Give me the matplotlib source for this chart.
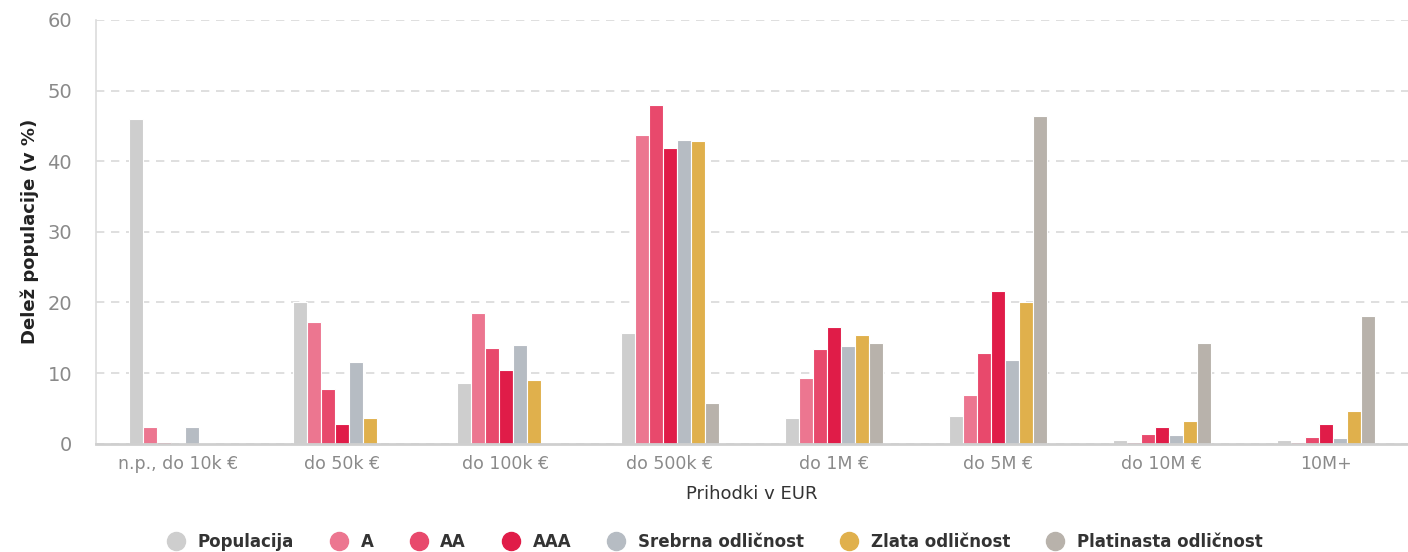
import numpy as np
import matplotlib
matplotlib.use("Agg")
import matplotlib.pyplot as plt
from matplotlib.lines import Line2D

# ── Data ──────────────────────────────────────────────────────────────────────
categories = ["n.p., do 10k €", "do 50k €", "do 100k €", "do 500k €",
              "do 1M €", "do 5M €", "do 10M €", "10M+"]
series_names = ["Populacija", "A", "AA", "AAA",
                "Srebrna odličnost", "Zlata odličnost", "Platinasta odličnost"]
populacija = [46.0, 20.0, 8.6, 15.7, 3.6, 3.9, 0.5, 0.5]
a_vals     = [2.4, 17.2, 18.5, 43.7, 9.3, 6.9, 0.25, 0.25]
aa_vals    = [0.25, 7.8, 13.6, 47.9, 13.4, 12.9, 1.4, 0.95]
aaa_vals   = [0.0, 2.8, 10.4, 41.9, 16.5, 21.6, 2.4, 2.8]
srebrna    = [2.4, 11.6, 14.0, 43.0, 13.8, 11.9, 1.2, 0.8]
zlata      = [0.1, 3.6, 9.0, 42.9, 15.4, 20.1, 3.2, 4.6]
platinasta = [0.0, 0.0, 0.1, 5.8, 14.3, 46.4, 14.3, 18.1]
yticks = [0, 10, 20, 30, 40, 50, 60]

COLORS = ["#cecece", "#ec7690", "#e8496c", "#e01c48", "#b6bcc3", "#e0b04c", "#b8b2ab"]

# ── Plot ──────────────────────────────────────────────────────────────────────
fig = plt.figure(figsize=(14.08, 5.52), dpi=100)
ax = fig.add_axes([0.068, 0.196, 0.932, 0.768])

all_series = [populacija, a_vals, aa_vals, aaa_vals, srebrna, zlata, platinasta]
x = np.arange(len(categories))
n = len(all_series)
w = 0.0855
for i, (vals, col) in enumerate(zip(all_series, COLORS)):
    offs = (i - (n - 1) / 2) * w
    ax.bar(x + offs, vals, width=w, color=col, edgecolor="white", linewidth=0.8, zorder=3)

ax.set_xlim(-0.5, len(categories) - 0.5)
ax.set_ylim(0, 60)
ax.set_yticks(yticks)
ax.set_xticks(x)
ax.set_xticklabels(categories)
ax.tick_params(axis="both", length=0, colors="#8a8a8a")
ax.tick_params(axis="x", pad=8, labelsize=12.5)
ax.tick_params(axis="y", pad=17, labelsize=14)

ax.grid(axis="y", linestyle=(0, (5, 4)), color="#d9d9d9", linewidth=1.2, zorder=0)
for s in ["top", "right"]:
    ax.spines[s].set_visible(False)
ax.spines["left"].set_color("#dcdcdc")
ax.spines["left"].set_linewidth(1.2)
ax.spines["bottom"].set_color("#cfcfcf")
ax.spines["bottom"].set_linewidth(2)
ax.spines["bottom"].set_zorder(4)

ax.set_ylabel("Delež populacije (v %)", fontsize=13, fontweight="bold", color="#222222", labelpad=6)
ax.set_xlabel("Prihodki v EUR", fontsize=13, color="#333333", labelpad=9)

handles = [Line2D([0], [0], marker="o", linestyle="none", markersize=13,
                  markerfacecolor=c, markeredgecolor=c) for c in COLORS]
leg = fig.legend(handles, series_names, loc="lower center", ncol=7, frameon=False,
                 bbox_to_anchor=(0.505, -0.025), handletextpad=0.3, columnspacing=1.7,
                 prop={"size": 12, "weight": "bold"})
for t in leg.get_texts():
    t.set_color("#333333")

fig.savefig("out.png", dpi=100)
plt.close(fig)
